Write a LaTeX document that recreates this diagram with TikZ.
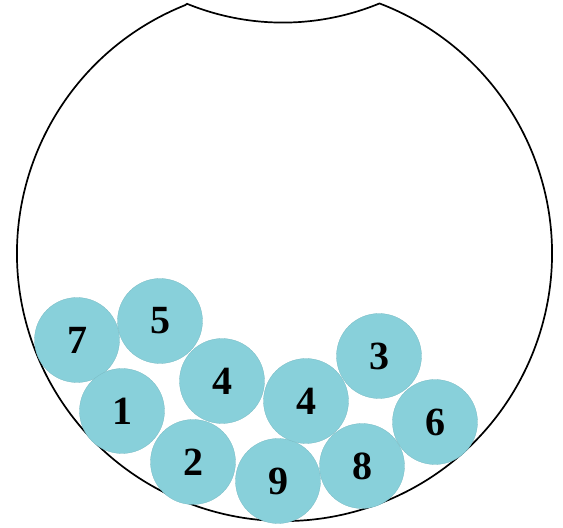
\documentclass[tikz,border=0pt]{standalone}
\usepackage{fontspec}
\setmainfont{Liberation Serif}
\definecolor{ballc}{RGB}{136,208,218}
\begin{document}
\begin{tikzpicture}[x=1pt,y=1pt,
  ball/.style={circle,fill=ballc,draw=ballc!90!black,line width=0.3pt,minimum size=85pt,inner sep=0pt,font=\bfseries\fontsize{40}{40}\selectfont}]
\useasboundingbox (0,0) rectangle (563,528);
\coordinate (C) at (284.5,274.5);
\draw[line width=1.7pt] (C) ++(111.8:267.5) arc[start angle=111.8,end angle=429.2,radius=267.5]
  arc[start angle=-67.6,end angle=-112.2,radius=253.6] -- cycle;
\node[ball] (b7) at (77,188) {7};
\node[ball] (b5) at (160,207) {5};
\node[ball] (b1) at (122,117) {1};
\node[ball] (b4a) at (222,147) {4};
\node[ball] (b2) at (193,66) {2};
\node[ball] (b9) at (278,47) {9};
\node[ball] (b4b) at (306,127) {4};
\node[ball] (b8) at (362,62) {8};
\node[ball] (b3) at (379,172) {3};
\node[ball] (b6) at (435,106) {6};
\end{tikzpicture}
\end{document}
